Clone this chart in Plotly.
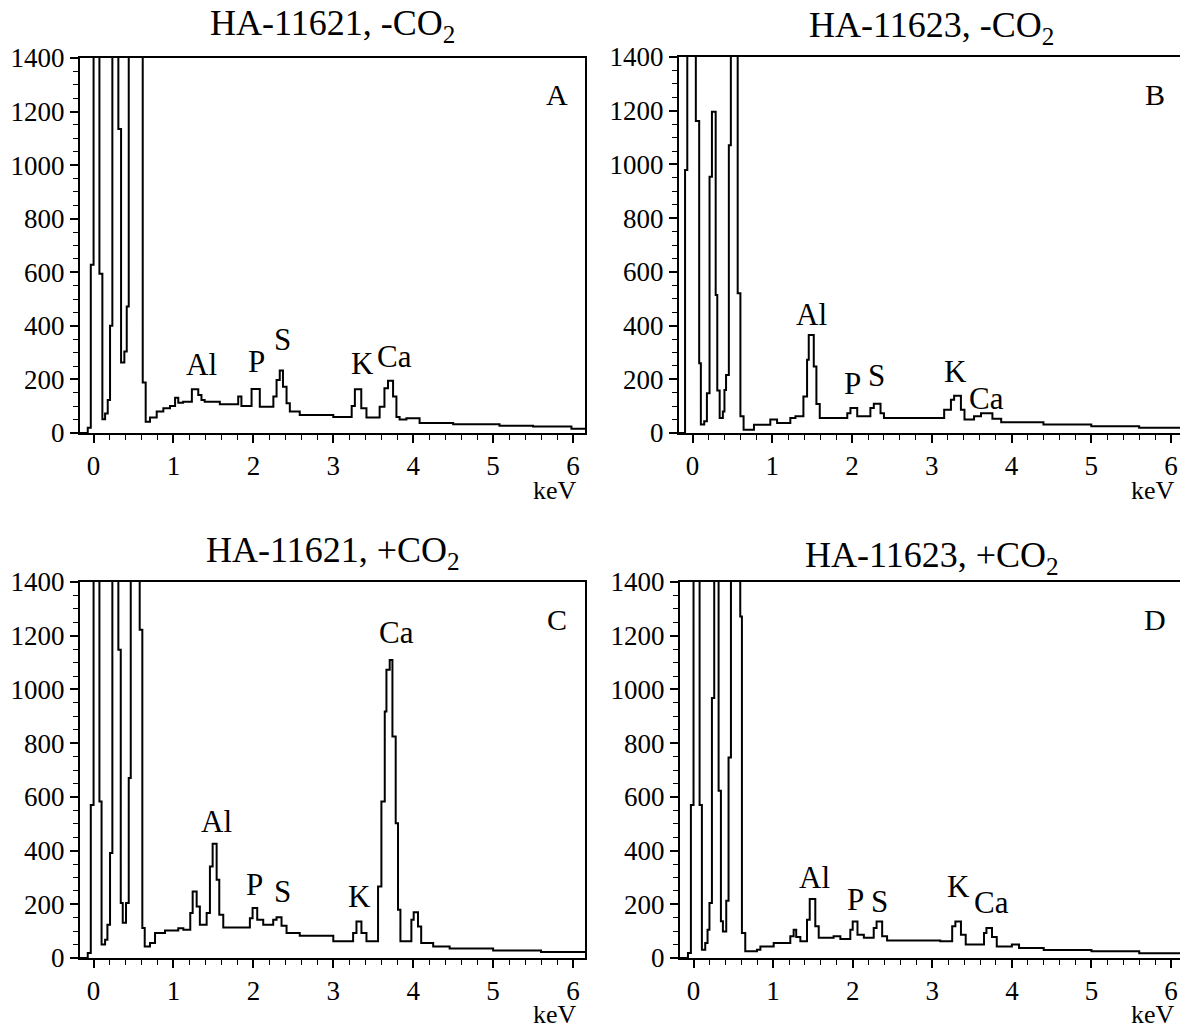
import plotly.graph_objects as go

# ---------------- data (bin start in keV, counts); 5000 = off-scale peak ----------------
a_kev = [-0.17, -0.073, -0.035, 0.0, 0.073, 0.11, 0.144, 0.177, 0.206, 0.235, 0.31, 0.344, 0.385, 0.415,
         0.44, 0.615, 0.652, 0.706, 0.79, 0.873, 0.956, 1.02, 1.06, 1.12, 1.23, 1.31, 1.35, 1.39, 1.58,
         1.81, 1.85, 1.977, 2.08, 2.25, 2.29, 2.33, 2.37, 2.415, 2.456, 2.58, 3.0, 3.23, 3.27, 3.35,
         3.415, 3.58, 3.64, 3.685, 3.748, 3.79, 3.83, 3.915, 4.08, 4.5, 5.08, 5.5, 5.98]
a_cts = [0, 20, 628, 5000, 595, 51, 73, 123, 400, 5000, 1135, 263, 304, 472,
         5000, 189, 42, 58, 80, 92, 101, 132, 113, 117, 163, 142, 123, 117, 107,
         136, 101, 164, 98, 136, 198, 233, 173, 111, 80, 67, 60, 101, 163, 92,
         58, 98, 167, 195, 136, 60, 50, 55, 37, 33, 27, 24, 16]

b_kev = [-0.17, -0.094, -0.066, 0.041, 0.083, 0.104, 0.146, 0.18, 0.213, 0.243, 0.29, 0.31, 0.34, 0.38,
         0.40, 0.42, 0.455, 0.48, 0.566, 0.60, 0.64, 0.77, 0.975, 1.06, 1.226, 1.29, 1.39, 1.436,
         1.457, 1.52, 1.553, 1.595, 1.94, 1.98, 2.065, 2.23, 2.273, 2.357, 2.4, 3.155, 3.24, 3.28,
         3.365, 3.41, 3.53, 3.617, 3.76, 3.87, 4.4, 5.0, 5.6]
b_cts = [0, 979, 5000, 1162, 260, 32, 44, 148, 954, 1196, 514, 158, 56, 80,
         160, 216, 1071, 5000, 520, 62, 12, 31, 50, 37, 56, 62, 136, 273,
         365, 248, 108, 56, 74, 93, 62, 93, 109, 74, 56, 87, 124, 139,
         87, 50, 62, 74, 53, 40, 32, 25, 20]

c_kev = [-0.17, -0.073, -0.035, 0.0, 0.073, 0.10, 0.144, 0.173, 0.206, 0.235, 0.31, 0.34, 0.365, 0.406,
         0.44, 0.465, 0.577, 0.61, 0.64, 0.706, 0.769, 0.894, 1.06, 1.123, 1.21, 1.24, 1.29, 1.33,
         1.415, 1.456, 1.49, 1.54, 1.573, 1.623, 1.956, 1.99, 2.048, 2.123, 2.248, 2.29, 2.352, 2.415,
         2.58, 3.0, 3.248, 3.29, 3.352, 3.415, 3.56, 3.602, 3.644, 3.665, 3.706, 3.74, 3.781, 3.81,
         3.84, 3.977, 4.006, 4.06, 4.1, 4.25, 4.456, 5.0, 5.6]
c_cts = [0, 19, 570, 5000, 583, 50, 68, 124, 391, 5000, 1148, 205, 131, 205,
         670, 5000, 1222, 112, 43, 56, 93, 102, 111, 105, 168, 248, 192, 124,
         168, 341, 425, 291, 161, 114, 148, 186, 142, 124, 142, 152, 120, 93,
         83, 62, 93, 136, 93, 62, 266, 583, 918, 1073, 1110, 825, 502, 180,
         62, 142, 170, 117, 56, 43, 35, 28, 22]

d_kev = [-0.17, -0.07, -0.033, 0.0, 0.076, 0.105, 0.147, 0.176, 0.2, 0.231, 0.26, 0.315, 0.344, 0.369,
         0.411, 0.44, 0.47, 0.587, 0.608, 0.65, 0.797, 0.84, 1.007, 1.216, 1.258, 1.29, 1.342, 1.426,
         1.46, 1.53, 1.573, 1.76, 1.845, 1.97, 2.0, 2.06, 2.14, 2.264, 2.3, 2.37, 2.432, 3.1, 3.25,
         3.29, 3.36, 3.42, 3.65, 3.68, 3.75, 3.81, 4.0, 4.09, 4.4, 5.0, 5.6]
d_cts = [0, 19, 570, 5000, 570, 31, 56, 105, 205, 968, 5000, 623, 137, 99,
         213, 747, 5000, 1272, 93, 25, 31, 43, 56, 81, 105, 78, 62, 142,
         220, 118, 75, 81, 71, 105, 136, 87, 75, 112, 136, 81, 65, 62, 118,
         136, 87, 50, 93, 112, 78, 43, 50, 37, 30, 25, 18]

titles = ["HA-11621, -CO<sub>2</sub>", "HA-11623, -CO<sub>2</sub>",
          "HA-11621, +CO<sub>2</sub>", "HA-11623, +CO<sub>2</sub>"]
letters = ["A", "B", "C", "D"]

# peak labels: (text, keV, counts)
a_lbl = [("Al", 1.35, 254), ("P", 2.04, 266), ("S", 2.36, 350), ("K", 3.36, 260), ("Ca", 3.77, 285)]
b_lbl = [("Al", 1.49, 440), ("P", 2.01, 185), ("S", 2.31, 213), ("K", 3.30, 230), ("Ca", 3.68, 128)]
c_lbl = [("Al", 1.54, 508), ("P", 2.02, 273), ("S", 2.36, 246), ("K", 3.33, 229), ("Ca", 3.79, 1211)]
d_lbl = [("Al", 1.52, 298), ("P", 2.03, 217), ("S", 2.34, 211), ("K", 3.33, 267), ("Ca", 3.75, 205)]

x_ticks = [0, 1, 2, 3, 4, 5, 6]
y_ticks = [0, 200, 400, 600, 800, 1000, 1200, 1400]

# ---------------- layout geometry ----------------
W, H = 1188, 1029
OFF = 8  # page body margin
X_RANGE = [-0.17, 6.15]
Y_RANGE = [0, 1400]
FONT = "Liberation Serif, Times New Roman, serif"

# target pixel boxes in the picture (left, right, top, bottom)
boxes = [(80, 585, 58, 433), (679, 1183, 57, 433), (80, 585, 582, 958), (680, 1183, 582, 958)]
title_y = [25, 28, 552, 557]

def px(x):
    return (x - OFF) / W

def py(y):
    return 1 - (y - OFF) / H

fig = go.Figure()
datasets = [(a_kev, a_cts), (b_kev, b_cts), (c_kev, c_cts), (d_kev, d_cts)]
labels = [a_lbl, b_lbl, c_lbl, d_lbl]
annotations = []

for i, ((kev, cts), box) in enumerate(zip(datasets, boxes)):
    sfx = "" if i == 0 else str(i + 1)
    xs = list(kev) + [X_RANGE[1]]
    ys = list(cts) + [cts[-1]]
    fig.add_trace(go.Scatter(x=xs, y=ys, mode="lines", line=dict(color="black", width=2, shape="hv"),
                             xaxis="x" + sfx, yaxis="y" + sfx, showlegend=False, hoverinfo="skip"))
    l, r, t, b = box
    axcommon = dict(showline=True, mirror=True, linecolor="black", linewidth=2,
                    ticks="outside", tickcolor="black", tickwidth=1.6, ticklen=8,
                    showgrid=False, zeroline=False, automargin=False,
                    tickfont=dict(family=FONT, size=27, color="black"))
    fig.layout["xaxis" + sfx] = dict(axcommon, domain=[px(l), px(r)], range=X_RANGE,
                                     tickvals=x_ticks, anchor="y" + sfx,
                                     minor=dict(dtick=0.2, tick0=0, ticks="outside", ticklen=5,
                                                tickwidth=1.3, tickcolor="black"))
    fig.layout["yaxis" + sfx] = dict(axcommon, domain=[py(b), py(t)], range=Y_RANGE,
                                     tickvals=y_ticks, anchor="x" + sfx,
                                     minor=dict(dtick=50, tick0=0, ticks="outside", ticklen=5,
                                                tickwidth=1.3, tickcolor="black"))
    annotations.append(dict(text=titles[i], x=px((l + r) / 2), y=py(title_y[i]), xref="paper", yref="paper",
                            showarrow=False, xanchor="center", yanchor="middle",
                            font=dict(family=FONT, size=36, color="black")))
    annotations.append(dict(text=letters[i], x=px(r - 28), y=py(t + 37), xref="paper", yref="paper",
                            showarrow=False, xanchor="center", yanchor="middle",
                            font=dict(family=FONT, size=30, color="black")))
    annotations.append(dict(text="keV", x=px(r - 30), y=py(b + 57), xref="paper", yref="paper",
                            showarrow=False, xanchor="center", yanchor="middle",
                            font=dict(family=FONT, size=26, color="black")))
    for txt, xv, yv in labels[i]:
        annotations.append(dict(text=txt, x=xv, y=yv, xref="x" + sfx, yref="y" + sfx,
                                showarrow=False, xanchor="center", yanchor="middle",
                                font=dict(family=FONT, size=31, color="black")))

fig.update_layout(width=W, height=H, margin=dict(l=0, r=0, t=0, b=0, autoexpand=False),
                  plot_bgcolor="white", paper_bgcolor="white", annotations=annotations,
                  showlegend=False)

fig.write_html("out.html")
